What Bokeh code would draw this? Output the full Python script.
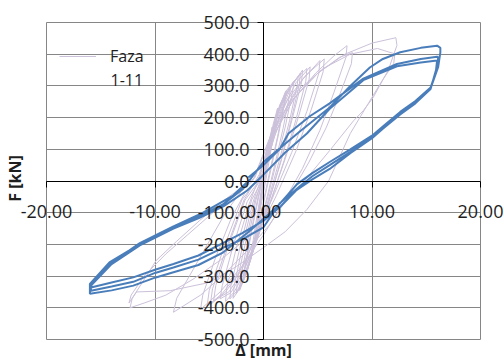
import math
from bokeh.plotting import figure
from bokeh.models import FixedTicker, NumeralTickFormatter, Legend, LegendItem, Label, Grid
from bokeh.embed import file_html
from bokeh.resources import INLINE

# ---------------- data ----------------
x_ticks = [-20, -10, 0, 10, 20]
y_ticks = [-500, -400, -300, -200, -100, 0, 100, 200, 300, 400, 500]

series_lav_name = "Faza"
series_lav_name2 = "1-11"

# "Faza 1-11" cycles (Delta [mm], F [kN])
lav_c01 = [(0.0, 0), (0.2, 40), (0.4, 90), (0.5, 110), (0.45, 90), (0.2, 30), (-0.1, -30), (-0.35, -80),
           (-0.5, -120), (-0.45, -100), (-0.2, -40), (0.0, 0)]
lav_c02 = [(0.2, 50), (0.5, 120), (0.8, 170), (0.75, 140), (0.4, 60), (0.0, -20), (-0.4, -100), (-0.7, -170),
           (-0.9, -210), (-0.8, -180), (-0.4, -80), (0.0, 10)]
lav_c03 = [(0.4, 90), (0.9, 180), (1.3, 230), (1.2, 200), (0.7, 100), (0.2, 0), (-0.3, -90), (-0.8, -180),
           (-1.2, -250), (-1.1, -220), (-0.6, -110), (-0.1, -10)]
lav_c04 = [(0.3, 80), (0.9, 170), (1.5, 240), (2.0, 275), (1.9, 245), (1.3, 140), (0.7, 50), (0.2, -30),
           (-0.4, -130), (-1.0, -220), (-1.5, -285), (-1.8, -310), (-1.7, -275), (-1.1, -160), (-0.5, -60)]
lav_c04b = [(0.1, 40), (0.7, 140), (1.4, 225), (2.1, 285), (2.0, 255), (1.4, 150), (0.8, 55), (0.2, -40),
            (-0.5, -150), (-1.1, -235), (-1.6, -295), (-1.9, -320), (-1.8, -285), (-1.2, -170), (-0.5, -50)]
lav_c05 = [(0.0, 10), (0.6, 110), (1.2, 200), (1.9, 265), (2.5, 300), (2.4, 270), (1.8, 165), (1.1, 60),
           (0.4, -40), (-0.4, -150), (-1.2, -250), (-1.8, -310), (-2.2, -345), (-2.1, -305), (-1.4, -180),
           (-0.7, -60)]
lav_c05b = [(-0.1, 10), (0.5, 115), (1.2, 210), (2.0, 280), (2.8, 315), (2.7, 285), (2.0, 170), (1.2, 60),
            (0.4, -50), (-0.5, -165), (-1.3, -260), (-2.0, -325), (-2.5, -355), (-2.4, -310), (-1.6, -185),
            (-0.8, -60)]
lav_c06 = [(-0.1, 0), (0.5, 100), (1.3, 200), (2.2, 280), (3.2, 330), (3.1, 300), (2.4, 190), (1.5, 70),
           (0.6, -40), (-0.4, -160), (-1.4, -270), (-2.2, -340), (-2.8, -370), (-2.7, -330), (-1.9, -200),
           (-1.0, -70)]
lav_c06b = [(-0.2, 10), (0.5, 120), (1.4, 220), (2.4, 295), (3.4, 340), (3.3, 305), (2.5, 185), (1.6, 65),
            (0.6, -55), (-0.5, -175), (-1.5, -280), (-2.4, -345), (-3.1, -372), (-3.0, -330), (-2.1, -200),
            (-1.1, -60)]
lav_c07 = [(0.0, 10), (0.7, 120), (1.6, 220), (2.6, 300), (3.6, 350), (3.5, 310), (2.6, 190), (1.6, 60),
           (0.6, -50), (-0.5, -170), (-1.6, -280), (-2.7, -350), (-3.5, -380), (-3.4, -340), (-2.5, -210),
           (-1.3, -70)]
lav_c07b = [(-0.3, 20), (0.6, 140), (1.6, 240), (2.8, 315), (4.0, 355), (3.9, 315), (3.0, 195), (1.9, 65),
            (0.7, -60), (-0.6, -185), (-1.9, -290), (-3.0, -352), (-4.0, -372), (-3.8, -330), (-2.8, -205),
            (-1.5, -65)]
lav_c08 = [(0.0, 20), (0.8, 130), (1.8, 230), (3.0, 310), (4.3, 360), (4.2, 320), (3.2, 200), (2.0, 70),
           (0.8, -50), (-0.5, -170), (-1.8, -280), (-3.2, -350), (-4.6, -378), (-4.4, -330), (-3.2, -200),
           (-1.7, -60)]
lav_c09 = [(0.0, 20), (1.0, 140), (2.2, 240), (3.6, 320), (5.2, 380), (5.1, 340), (4.0, 220), (2.6, 90),
           (1.0, -40), (-0.5, -160), (-2.0, -280), (-3.5, -350), (-4.9, -390), (-4.7, -340), (-3.4, -210),
           (-1.8, -60)]
lav_c09b = [(-0.4, 20), (0.8, 150), (2.2, 255), (3.8, 330), (5.6, 385), (5.5, 345), (4.4, 225), (3.0, 95),
            (1.2, -45), (-0.6, -170), (-2.2, -285), (-3.8, -355), (-5.2, -395), (-5.0, -345), (-3.7, -215),
            (-2.0, -60)]
lav_c10 = [(0.0, 30), (1.2, 160), (2.8, 260), (4.8, 340), (6.5, 395), (7.7, 427), (7.6, 390), (6.5, 280),
           (5.2, 160), (3.6, 40), (1.8, -70), (0.0, -170), (-2.0, -270), (-4.0, -350), (-5.8, -405),
           (-5.6, -360), (-4.4, -240), (-3.0, -120), (-1.6, -30)]
lav_c11 = [(-0.5, 0), (1.0, 150), (2.8, 260), (5.0, 340), (7.0, 390), (8.2, 405), (8.1, 370), (7.0, 270),
           (5.8, 170), (4.2, 60), (2.5, -40), (0.5, -140), (-1.5, -220), (-3.5, -290), (-5.8, -360),
           (-8.3, -414), (-8.0, -370), (-6.5, -280), (-5.0, -190), (-3.5, -100), (-2.0, -30)]
lav_c12 = [(-1.0, 0), (0.5, 130), (2.5, 250), (5.0, 340), (7.5, 400), (10.0, 435), (12.2, 452), (12.3, 428),
           (11.5, 350), (10.1, 263), (9.2, 222), (8.3, 190), (6.1, 96), (4.5, 30), (3.0, -30), (1.0, -100),
           (-1.5, -180), (-4.0, -250), (-6.5, -310), (-9.0, -360), (-11.0, -385), (-12.3, -400),
           (-12.1, -370), (-10.8, -300), (-9.9, -251), (-8.0, -190), (-5.9, -125), (-4.0, -70), (-2.0, -20)]
lav_c13 = [(-0.8, 10), (1.0, 170), (3.0, 280), (5.5, 355), (8.0, 400), (10.5, 418), (12.1, 401),
           (12.0, 370), (11.0, 320), (10.0, 264), (8.0, 150), (6.0, 0), (4.0, -90), (2.0, -160), (0.0, -210),
           (-2.5, -270), (-5.0, -320), (-8.6, -346), (-11.7, -350), (-12.4, -385), (-12.2, -360),
           (-11.0, -300), (-9.0, -230), (-7.0, -170), (-5.0, -110), (-3.0, -50), (-1.2, 0)]

# last phase (blue), Delta [mm], F [kN]
blue_start = [(-1.4, 11), (0.0, 50), (1.5, 101), (2.3, 150), (4.3, 205), (6.1, 245), (9.2, 323),
              (12.3, 369), (14.5, 385), (16.0, 392), (16.1, 390)]
blue_down1 = [(16.0, 355), (15.4, 295), (14.0, 252), (12.6, 218), (11.0, 172), (10.0, 143), (8.0, 100),
              (6.1, 60), (4.5, 25), (3.1, -10), (1.2, -83), (-1.25, -157), (-3.7, -225), (-6.0, -265),
              (-8.3, -288), (-10.0, -305), (-12.0, -330), (-14.0, -345), (-16.0, -356)]
blue_up1 = [(-16.0, -325), (-14.2, -257), (-11.4, -199), (-8.3, -146), (-5.9, -112), (-3.7, -73),
            (-1.9, -25), (0.0, 60), (3.4, 158), (6.1, 232), (8.0, 300), (9.8, 358), (11.0, 385),
            (12.6, 406), (14.5, 420), (16.0, 427), (16.3, 420), (16.3, 406)]
blue_down2 = [(16.1, 360), (15.4, 292), (14.0, 248), (12.6, 213), (11.0, 168), (10.0, 138), (8.0, 92),
              (6.1, 50), (4.5, 15), (3.4, -15), (1.5, -70), (0.0, -146), (-2.0, -185), (-3.7, -210),
              (-6.0, -248), (-8.3, -273), (-10.0, -290), (-12.0, -318), (-14.0, -333), (-15.9, -346)]
blue_up2 = [(-15.9, -330), (-14.0, -262), (-11.4, -203), (-8.3, -150), (-5.9, -116), (-3.7, -80),
            (-1.5, -30), (0.0, 20), (2.0, 90), (4.0, 150), (6.1, 228), (9.2, 318), (12.3, 362),
            (14.5, 374), (16.0, 380)]
blue_down3 = [(15.9, 350), (15.4, 290), (14.0, 245), (12.6, 210), (11.0, 165), (10.0, 135), (8.0, 88),
              (6.1, 38), (4.5, 5), (3.0, -30), (1.5, -83), (0.0, -125), (-2.0, -165), (-3.7, -195),
              (-6.0, -235), (-8.3, -262), (-10.0, -280), (-12.0, -304), (-14.0, -320), (-15.9, -336)]
blue_up3 = [(-15.8, -322), (-14.0, -258), (-11.4, -196), (-8.3, -143), (-5.86, -105), (-2.8, -46),
            (-1.4, 0)]

lav_cycles = [lav_c01, lav_c02, lav_c03, lav_c04, lav_c04b, lav_c05, lav_c05b, lav_c06, lav_c06b,
              lav_c07, lav_c07b, lav_c08, lav_c09, lav_c09b, lav_c10, lav_c11, lav_c12, lav_c13]
blue_parts = [blue_start, blue_down1, blue_up1, blue_down2, blue_up2, blue_down3, blue_up3]


def join(parts):
    xs, ys = [], []
    for part in parts:
        for x, y in part:
            xs.append(x)
            ys.append(y)
    return xs, ys


lx, ly = join(lav_cycles)
bx, by = join(blue_parts)

# ---------------- layout ----------------
W, H = 504, 362
# pixel box of the visible plot area (-20..20, -500..500)
PL, PR, PT, PB = 46, 480, 22, 339
X0, X1 = x_ticks[0], x_ticks[-1]
Y0, Y1 = y_ticks[0], y_ticks[-1]
sx = (PR - PL) / (X1 - X0)
sy = (PB - PT) / (Y1 - Y0)
x_start = X0 - PL / sx
x_end = X1 + (W - PR) / sx
y_end = Y1 + PT / sy
y_start = Y0 - (H - PB) / sy


def px2x(px):
    return x_start + px / sx


def py2y(py):
    return y_end - py / sy


FONT = "Open Sans"
TXT = "#1e1e1e"
GRID = "#868686"
LAV = "#ccc1da"
BLUE = "#4a7ebb"

p = figure(width=W, height=H, x_range=(x_start, x_end), y_range=(y_start, y_end),
           output_backend="svg", toolbar_location=None, min_border=0)
p.background_fill_color = "white"
p.border_fill_color = "white"
p.outline_line_color = None

lav = p.line(lx, ly, line_color=LAV, line_width=1)
blue = p.line(bx, by, line_color=BLUE, line_width=2)

xt = FixedTicker(ticks=x_ticks)
yt = FixedTicker(ticks=y_ticks)
p.xaxis.ticker = xt
p.yaxis.ticker = yt
p.xgrid.ticker = xt
p.ygrid.ticker = yt
p.xaxis.formatter = NumeralTickFormatter(format="0.00")
p.yaxis.formatter = NumeralTickFormatter(format="0.0")

p.xaxis.bounds = (X0, X1)
p.yaxis.bounds = (Y0, Y1)
p.xgrid.bounds = (X0, X1)
p.ygrid.bounds = (Y0, Y1)
has_cross = "cross_bounds" in Grid.properties()
if has_cross:
    p.xgrid.cross_bounds = (Y0, Y1)
    p.ygrid.cross_bounds = (X0, X1)

for g in (p.xgrid[0], p.ygrid[0]):
    g.grid_line_color = GRID
    g.grid_line_width = 1
    g.level = "underlay"

if not has_cross:
    p.xgrid.visible = False
    p.ygrid.visible = False
    p.segment(x0=x_ticks, y0=[Y0] * len(x_ticks), x1=x_ticks, y1=[Y1] * len(x_ticks),
              line_color=GRID, line_width=1, level="underlay")
    p.segment(x0=[X0] * len(y_ticks), y0=y_ticks, x1=[X1] * len(y_ticks), y1=y_ticks,
              line_color=GRID, line_width=1, level="underlay")

for ax in (p.xaxis[0], p.yaxis[0]):
    ax.fixed_location = 0
    ax.axis_line_color = "black"
    ax.axis_line_width = 1
    ax.major_tick_line_color = "black"
    ax.major_tick_in = 0
    ax.major_tick_out = 6
    ax.minor_tick_line_color = None
    ax.major_label_text_font = FONT
    ax.major_label_text_font_size = "18px"
    ax.major_label_text_color = TXT

p.xaxis.major_label_standoff = 18
p.yaxis.major_label_standoff = 8

legend = Legend(items=[LegendItem(label=series_lav_name, renderers=[lav])],
                location=(59, H - 67), glyph_width=37, glyph_height=20, label_height=20,
                label_standoff=14, padding=0, margin=0, spacing=0,
                border_line_color=None, background_fill_alpha=0,
                label_text_font=FONT, label_text_font_size="16px", label_text_color=TXT)
p.add_layout(legend)

p.add_layout(Label(x=px2x(110), y=py2y(79), text=series_lav_name2, text_font=FONT,
                   text_font_size="16px", text_color=TXT, text_align="left", text_baseline="middle"))

p.add_layout(Label(x=px2x(14), y=py2y(178), text="F [kN]", angle=math.pi / 2, text_font=FONT,
                   text_font_size="16px", text_font_style="bold", text_color=TXT,
                   text_align="center", text_baseline="middle"))
p.add_layout(Label(x=px2x(263), y=py2y(360), text="Δ [mm]", text_font=FONT,
                   text_font_size="16px", text_font_style="bold", text_color=TXT,
                   text_align="center", text_baseline="bottom"))

open("out.html", "w").write(file_html(p, INLINE))
